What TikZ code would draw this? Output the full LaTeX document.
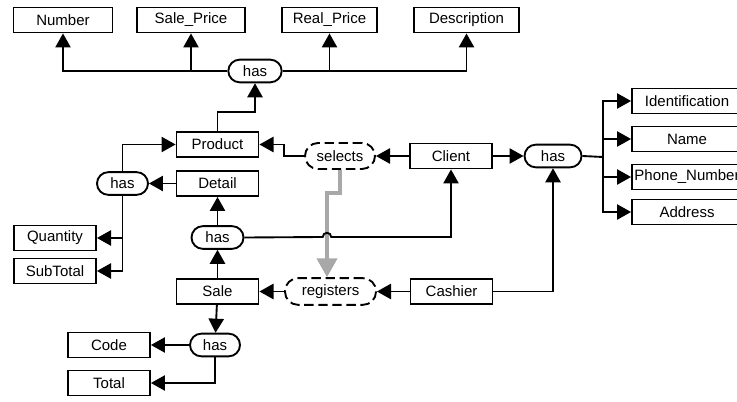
\documentclass[tikz,border=0pt]{standalone}
\usepackage{fontspec}
\setmainfont{Liberation Sans}
\usetikzlibrary{arrows.meta,positioning}

\definecolor{midgray}{RGB}{168,168,168}

\tikzset{
    entity/.style = {draw, line width=1.6pt, minimum width=2.46cm, minimum height=0.75cm, inner sep=2pt},
    rel/.style = {draw, line width=1.6pt, rounded corners=0.34cm, minimum width=1.6cm, minimum height=0.68cm, inner sep=2pt},
    weakrel/.style = {rel, rounded corners=0.39cm, dash pattern=on 8pt off 4pt},
    link/.style = {line width=1.6pt, -{Triangle[length=12pt,width=13pt]}},
    plain/.style = {line width=1.6pt},
    transfer/.style = {line width=3.2pt, midgray, -{Triangle[length=16pt,width=17pt]}}
}

\begin{document}
\begin{tikzpicture}[x=0.03cm, y=-0.03cm, font=\fontsize{12.8}{14}\selectfont]
    \useasboundingbox (0,0) rectangle (737,402);

    % product attributes
    \node (number) [entity, minimum width=2.97cm] at (63,20) {Number};
    \node (saleprice) [entity, minimum width=3.24cm] at (191,20) {Sale\_Price};
    \node (realprice) [entity, minimum width=2.85cm] at (329.5,20) {Real\_Price};
    \node (description) [entity, minimum width=3.15cm] at (466.5,20) {Description};
    \node (hastop) [rel] at (255,71) {has};

    % left part
    \node (product) [entity] at (217.5,144.5) {Product};
    \node (detail) [below of=product, node distance=1.17cm, entity] {Detail};
    \node (hasdetail) [left of=detail, node distance=2.85cm, rel, minimum width=1.53cm] {has};
    \node (quantity) [entity] at (55,238) {Quantity};
    \node (subtotal) [below of=quantity, node distance=0.99cm, entity] {SubTotal};
    \node (hassale) [below of=detail, node distance=1.62cm, rel, minimum width=1.56cm] {has};
    \node (sale) [below of=hassale, node distance=1.62cm, entity] {Sale};
    \node (hascode) [rel, minimum width=1.5cm] at (215,345) {has};
    \node (code) [left of=hascode, node distance=3.18cm, entity] {Code};
    \node (total) [below of=code, node distance=1.14cm, entity] {Total};

    % middle and right part
    \node (registers) [right of=sale, node distance=3.39cm, weakrel, minimum width=2.73cm, minimum height=0.8cm] {registers};
    \node (cashier) [right of=registers, node distance=3.63cm, entity] {Cashier};
    \node (client) [entity] at (451,156) {Client};
    \node (selects) [left of=client, node distance=3.33cm, weakrel, minimum width=2.1cm, minimum height=0.78cm] {selects};
    \node (hasclient) [right of=client, node distance=3.06cm, rel, minimum width=1.71cm] {has};

    % client attributes
    \node (ident) [entity, minimum width=3.3cm] at (687,101) {Identification};
    \node (name) [below of=ident, node distance=1.14cm, entity, minimum width=3.3cm] {Name};
    \node (phone) [below of=name, node distance=1.14cm, entity, minimum width=3.3cm] {Phone\_Number};
    \node (address) [below of=phone, node distance=1.05cm, entity, minimum width=3.3cm] {Address};

    \coordinate (bus) at (603,157);
    \coordinate (bend) at (327,193);
    \coordinate (jump) at (327,237);

    \draw [transfer] (selects.south) |- (bend) -- (bend |- registers.north);

    \draw [link] (hastop.west) -| (number);
    \draw [link] (hastop.west) -| (saleprice);
    \draw [link] (hastop.east) -| (realprice);
    \draw [link] (hastop.east) -| (description);
    \draw [link] (product.north) -- ++(0,0.57cm) -| (hastop.south);

    \draw [link] (detail) -- (hasdetail);
    \draw [link] (hasdetail.north) |- (product.west);
    \draw [link] (hasdetail.south) |- (quantity.east);
    \draw [link] (hasdetail.south) |- (subtotal.east);
    \draw [link] (hassale) -- (detail);
    \draw [link] (sale) -- (hassale);
    \draw [link] (hassale.east) -- ([xshift=-3.6pt]jump) arc [start angle=180, end angle=0, radius=3.6pt] -| (client.south);

    \draw [link] (registers) -- (sale);
    \draw [link] (cashier) -- (registers);
    \draw [link] (cashier.east) -| (hasclient.south);
    \draw [link] (client) -- (selects);
    \draw [link] (selects.west) -- ++(-0.6cm,0) |- (product.east);
    \draw [link] (client) -- (hasclient);

    \draw [plain] (hasclient.east) -- (bus);
    \draw [link] (bus) |- (ident.west);
    \draw [link] (bus) |- (name.west);
    \draw [link] (bus) |- (phone.west);
    \draw [link] (bus) |- (address.west);

    \draw [link] (sale) -- (hascode);
    \draw [link] (hascode) -- (code);
    \draw [link] (hascode.south) |- (total.east);
\end{tikzpicture}
\end{document}
